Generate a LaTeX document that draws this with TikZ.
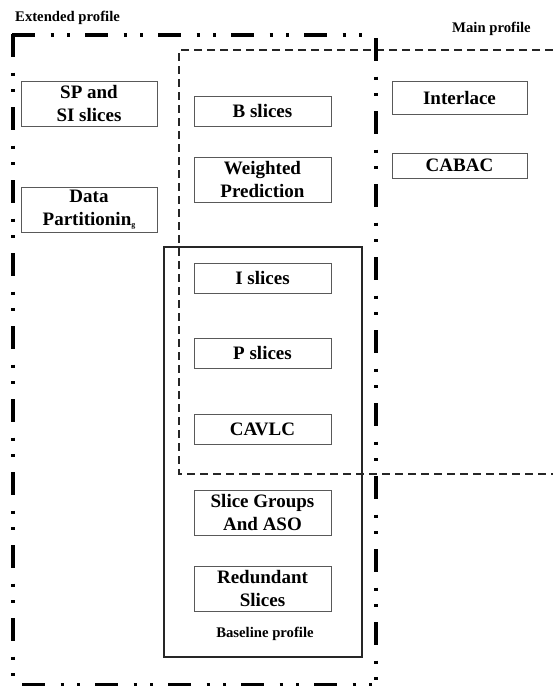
\documentclass[tikz,border=0pt]{standalone}
\usepackage{fontspec}
\setmainfont{Liberation Serif}
\begin{document}
\begin{tikzpicture}[x=1pt,y=-1pt,
  featbox/.style={draw=black!65, line width=1pt, fill=white, inner sep=0pt,
    align=center, font=\fontsize{19}{23}\selectfont\bfseries, text=black},
  profilelabel/.style={inner sep=0pt, font=\fontsize{14.7}{16}\selectfont\bfseries},
  extline/.style={line width=3.2pt, line cap=butt,
    dash pattern=on 23pt off 15.5pt on 3pt off 13.5pt on 3pt off 15pt},
  mainline/.style={draw=black!85, line width=1.2pt, dash pattern=on 8pt off 5pt},
  baseline/.style={draw=black!85, line width=1.2pt}]
\useasboundingbox (0,0) rectangle (553,686);

% Main profile (dashed, open on the right)
\coordinate (m1) at (553,50);
\coordinate (m2) at (179,50);
\coordinate (m3) at (179,474);
\coordinate (m4) at (553,474);
\draw[mainline] (m1) -- (m2) -- (m3) -- (m4);

% Baseline profile
\node[baseline, inner sep=0pt, minimum width=198pt, minimum height=410pt] (base) at (263,452) {};
\node[profilelabel, anchor=base] (baselab) at (265,637) {Baseline profile};

% Extended profile (dash-dot-dot frame)
\coordinate (e1) at (12,35);
\coordinate (e2) at (375,35);
\coordinate (e3) at (13,34);
\coordinate (e4) at (13,690);
\coordinate (e5) at (376,38);
\coordinate (e6) at (376,690);
\coordinate (e7) at (22,685);
\coordinate (e8) at (376,685);
\draw[extline] (e1) -- (e2);
\draw[extline] (e3) -- (e4);
\draw[extline] (e5) -- (e6);
\draw[extline] (e7) -- (e8);

% Profile labels
\node[profilelabel, anchor=base west] (extlab) at (15,21.5) {Extended profile};
\node[profilelabel, anchor=base west] (mainlab) at (452,32.5) {Main profile};

% Features
\node[featbox, minimum width=136pt, minimum height=45pt] (sp) at (89,103.5) {SP and\\SI slices};
\node[featbox, minimum width=136pt, minimum height=45pt] (dp) at (89,209.5)
  {Data\\Partitionin\raisebox{-2.5pt}{\fontsize{8}{8}\selectfont g}};

\node[featbox, minimum width=137pt, minimum height=30pt] (bsl) at (262.5,111) {B slices};
\node[featbox, minimum width=137pt, minimum height=45pt] (wp) at (262.5,179.5) {Weighted\\Prediction};
\node[featbox, minimum width=137pt, minimum height=30pt] (isl) at (262.5,278) {I slices};
\node[featbox, minimum width=137pt, minimum height=30pt] (psl) at (262.5,353) {P slices};
\node[featbox, minimum width=137pt, minimum height=30pt] (cavlc) at (262.5,429) {CAVLC};
\node[featbox, minimum width=137pt, minimum height=45pt] (sg) at (262.5,512.5) {Slice Groups\\And ASO};
\node[featbox, minimum width=137pt, minimum height=45pt] (rs) at (262.5,588.5) {Redundant\\Slices};

\node[featbox, minimum width=135pt, minimum height=33pt] (il) at (459.5,97.5) {Interlace};
\node[featbox, minimum width=135pt, minimum height=25pt] (cabac) at (459.5,165.5) {CABAC};
\end{tikzpicture}
\end{document}
